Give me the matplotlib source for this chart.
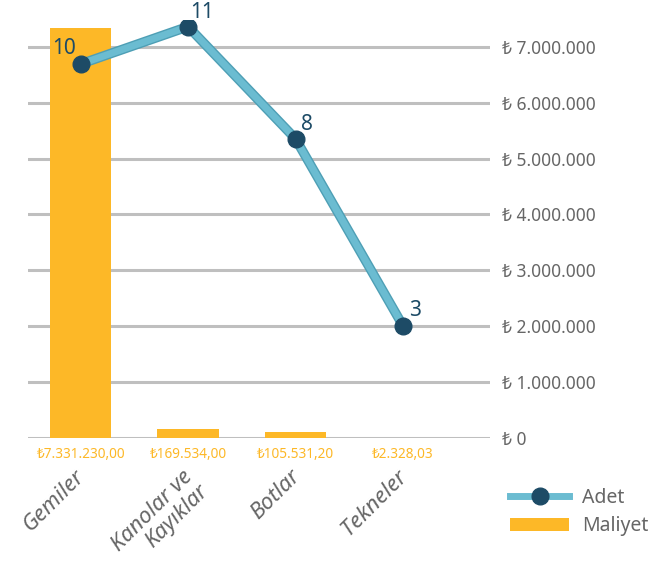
import matplotlib.pyplot as plt
from matplotlib.lines import Line2D
from matplotlib.patches import Patch

plt.rcParams['font.family'] = ['Noto Sans', 'DejaVu Sans']

categories = ['Gemiler', 'Kanolar ve\nKayıklar', 'Botlar', 'Tekneler']
maliyet = [7331230.00, 169534.00, 105531.20, 2328.03]
maliyet_labels = ['₺7.331.230,00', '₺169.534,00', '₺105.531,20', '₺2.328,03']
adet = [10, 11, 8, 3]
right_ticks = [0, 1000000, 2000000, 3000000, 4000000, 5000000, 6000000, 7000000]
right_tick_labels = ['₺ 0', '₺ 1.000.000', '₺ 2.000.000', '₺ 3.000.000',
                     '₺ 4.000.000', '₺ 5.000.000', '₺ 6.000.000', '₺ 7.000.000']

bar_color = '#FDB827'
line_color = '#6BBCD1'
marker_color = '#1D4B66'
grid_color = '#BFBFBF'
text_gray = '#666666'

fig = plt.figure(figsize=(6.72, 5.62), dpi=100)
ax_bar = fig.add_axes([28 / 672, 1 - 438 / 562, 462 / 672, 418 / 562])
ax_line = ax_bar.twinx()

x = list(range(len(categories)))
ymax_right = 418 / 55.9 * 1e6
ax_bar.set_ylim(0, ymax_right)
ax_bar.set_xlim(-0.49, 3.81)
ax_bar.bar(x, maliyet, width=0.57, color=bar_color, zorder=2)
for yv in right_ticks:
    ax_bar.axhline(yv, color=grid_color, lw=2.2, zorder=1)

# right axis labels on bar axis
ax_bar.yaxis.tick_right()
ax_bar.set_yticks(right_ticks)
ax_bar.set_yticklabels(right_tick_labels, fontsize=12.5, color=text_gray)
ax_bar.tick_params(axis='y', length=0, pad=9)
ax_bar.set_xticks(x)
ax_bar.set_xticklabels([])
ax_bar.tick_params(axis='x', length=0)
for s in ax_bar.spines.values():
    s.set_visible(False)

for xi, lab in zip(x, maliyet_labels):
    ax_bar.text(xi, -300000, lab, ha='center', va='center', fontsize=9.8,
                color=bar_color)
for xi, cat in zip(x, categories):
    ax_bar.text(xi - 0.06, -500000, cat, ha='right', va='top', rotation=45,
                rotation_mode='anchor', fontsize=16, style='italic',
                color=text_gray, linespacing=1.05)

# line on left (hidden) axis
ax_line.yaxis.tick_left()
ax_line.set_ylim(0, 418 / 37.4)
ax_line.plot(x, adet, color='#4E9FB5', lw=7, solid_capstyle='round', zorder=3)
ax_line.plot(x, adet, color=line_color, lw=5, solid_capstyle='round', zorder=4)
ax_line.plot(x, adet, 'o', color=marker_color, ms=12, zorder=5)
ax_line.set_yticks([])
for s in ax_line.spines.values():
    s.set_visible(False)
offsets = [(-12, 11), (10, 10), (8, 10), (9, 11)]
for xi, v, off in zip(x, adet, offsets):
    ax_line.annotate(str(v), (xi, v), xytext=off, textcoords='offset points',
                     ha='center', va='center', fontsize=15, color=marker_color)

handles = [
    Line2D([0], [0], color=line_color, lw=5, marker='o', ms=12,
           markerfacecolor=marker_color, markeredgecolor=marker_color),
    Patch(facecolor=bar_color),
]
fig.legend(handles, ['Adet', 'Maliyet'], loc='center left',
           bbox_to_anchor=(493 / 672, 1 - 512 / 562), frameon=False,
           fontsize=14, labelcolor=text_gray, handlelength=3.0,
           handletextpad=0.7, labelspacing=0.45)

fig.savefig('out.png', dpi=100)
